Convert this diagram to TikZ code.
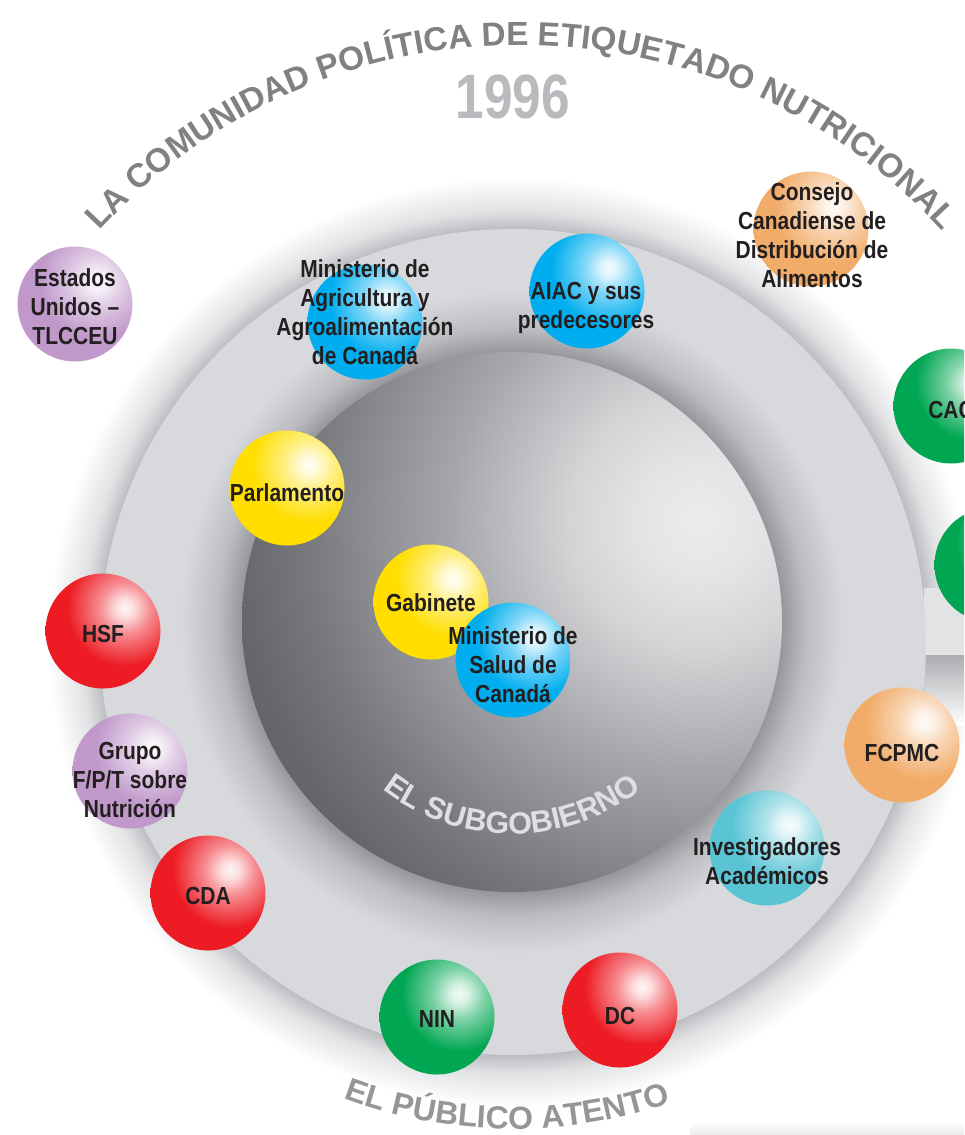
\documentclass[tikz,border=0pt]{standalone}
\usepackage{fontspec}
\setmainfont{Liberation Sans}
\newfontfamily\labfont[FakeStretch=0.85]{Liberation Sans}
\newfontfamily\yearfont[FakeStretch=0.82]{Liberation Sans}
\usetikzlibrary{decorations.text}

\definecolor{ballcol}{RGB}{237,28,36}
\definecolor{cRed}{RGB}{237,28,36}
\definecolor{cBlue}{RGB}{0,174,239}
\definecolor{cYellow}{RGB}{255,222,0}
\definecolor{cPurple}{RGB}{192,152,202}
\definecolor{cOrange}{RGB}{241,172,105}
\definecolor{cGreen}{RGB}{0,166,81}
\definecolor{cTeal}{RGB}{90,196,212}
\definecolor{labcol}{RGB}{35,31,32}
\definecolor{titlegray}{RGB}{128,129,132}
\definecolor{yeargray}{RGB}{185,186,189}
\definecolor{subgray}{RGB}{222,223,225}
\definecolor{pubgray}{RGB}{150,150,153}
\definecolor{diskgray}{RGB}{215,217,220}
\definecolor{haloin}{RGB}{188,189,192}
\definecolor{halomid}{RGB}{225,226,228}
\definecolor{ringdark}{RGB}{150,151,155}
\definecolor{ringmid}{RGB}{188,189,193}
\definecolor{bandgray}{RGB}{226,227,229}
\definecolor{bandshadow}{RGB}{172,173,177}
\definecolor{stripgray}{RGB}{232,233,235}
\definecolor{ig0}{RGB}{236,236,238}
\definecolor{ig1}{RGB}{228,228,230}
\definecolor{ig2}{RGB}{212,212,215}
\definecolor{ig3}{RGB}{165,166,169}
\definecolor{ig4}{RGB}{118,119,122}
\definecolor{ig5}{RGB}{101,102,105}
\definecolor{ig6}{RGB}{95,96,99}

% note: a path's bounding box corresponds to the inner 25bp radius of a shading
\pgfdeclareradialshading[ballcol]{myballshade}{\pgfpoint{0bp}{0bp}}{%
 color(0bp)=(ballcol!5!white); color(2.5bp)=(ballcol!15!white);
 color(7bp)=(ballcol!50!white); color(16bp)=(ballcol); color(50bp)=(ballcol)}
\pgfdeclareradialshading{innerglow}{\pgfpoint{0bp}{0bp}}{%
 color(0bp)=(ig0); color(2.7bp)=(ig1); color(5.8bp)=(ig2);
 color(11.2bp)=(ig3); color(17.9bp)=(ig4); color(21bp)=(ig5); color(25bp)=(ig6); color(50bp)=(ig6)}
\pgfdeclareradialshading{haloshade}{\pgfpoint{0bp}{0bp}}{%
 color(0bp)=(haloin); color(22.2bp)=(haloin); color(23.2bp)=(halomid); color(25bp)=(white); color(50bp)=(white)}
\pgfdeclareradialshading{ringshade}{\pgfpoint{0bp}{0bp}}{%
 color(0bp)=(ringdark); color(19.57bp)=(ringdark); color(21.3bp)=(ringmid); color(24bp)=(diskgray); color(50bp)=(diskgray)}

\newcommand\titlefmt{\fontsize{25pt}{30pt}\selectfont\bfseries\color{titlegray}}
\newcommand\subfmt{\fontsize{23pt}{27pt}\selectfont\bfseries\color{subgray}}
\newcommand\pubfmt{\fontsize{24pt}{28pt}\selectfont\bfseries\color{pubgray}}

\tikzset{
  ball/.style={circle, minimum size=86.25pt, inner sep=0pt, draw=none,
    /utils/exec={\colorlet{ballcol}{#1}},
    path picture={\shade[shading=myballshade]
      ([shift={(16.5pt,17.25pt)}]path picture bounding box.center) circle (67.5pt);}},
  lab/.style={font={\labfont\bfseries\fontsize{18.5pt}{21.75pt}\selectfont},
    text=labcol, align=center, inner sep=0pt}
}

\begin{document}
\begin{tikzpicture}[x=0.75pt,y=0.75pt]
\useasboundingbox (0,0) rectangle (964,-1135);
\clip (0,0) rectangle (964,-1135);
\fill[white] (0,0) rectangle (964,-1135);

% background discs
\shade[shading=haloshade] (513,-642) circle (465);
\fill[bandgray] (924,-588) rectangle (964,-655);
\shade[top color=bandshadow, bottom color=white] (924,-655) rectangle (964,-725);
\shade[top color=white, bottom color=stripgray] (690,-1122) rectangle (964,-1135);
\fill[diskgray] (513,-642) circle (413);
\shade[shading=ringshade] (512,-622) circle (345);
\begin{scope}
  \clip (512,-622) circle (270);
  \shade[shading=innerglow] (700,-520) circle (560);
\end{scope}

% titles
\path[shift={(521,-615)}, decorate, decoration={text along path, text align=center,
  text={|\titlefmt|LA COMUNIDAD POLÍTICA DE ETIQUETADO NUTRICIONAL}}]
  (140:570) arc[start angle=140, end angle=40, radius=570];
\node[font={\yearfont\bfseries\fontsize{47pt}{50pt}\selectfont}, text=yeargray, inner sep=0pt] (year) at (513,-97) {1996};
\path[shift={(512,-622)}, decorate, decoration={text along path, text align=center,
  text={|\subfmt|EL SUBGOBIERNO}}]
  (220:212) arc[start angle=220, end angle=320, radius=212];
\path[shift={(513,-642)}, decorate, decoration={text along path, text align=center,
  text={|\pubfmt|EL PÚBLICO ATENTO}}]
  (229:487) arc[start angle=229, end angle=309.5, radius=487];

% balls
\node[ball=cPurple] (eu) at (75,-304) {};
\node[ball=cBlue] (magri) at (365,-322) {};
\node[ball=cBlue] (aiac) at (587,-291) {};
\node[ball=cOrange] (ccda) at (811,-229) {};
\node[ball=cGreen] (cac) at (951,-406) {};
\node[ball=cGreen] (gtwo) at (992,-565) {};
\node[ball=cYellow] (parl) at (287,-488) {};
\node[ball=cYellow] (gab) at (431,-602) {};
\node[ball=cBlue] (msal) at (513,-660) {};
\node[ball=cRed] (hsf) at (103,-631) {};
\node[ball=cPurple] (fpt) at (130,-771) {};
\node[ball=cRed] (cda) at (208,-893) {};
\node[ball=cGreen] (nin) at (437,-1017) {};
\node[ball=cRed] (dc) at (620,-1010) {};
\node[ball=cOrange] (fcpmc) at (902,-745) {};
\node[ball=cTeal] (inv) at (767,-848) {};

% labels
\node[lab] (eu-t) at (75,-307) {Estados\\Unidos –\\TLCCEU};
\node[lab] (magri-t) at (365,-312) {Ministerio de\\Agricultura y\\Agroalimentación\\de Canadá};
\node[lab] (aiac-t) at (586,-308) {AIAC y sus\\predecesores};
\node[lab] (ccda-t) at (812,-235) {Consejo\\Canadiense de\\Distribución de\\Alimentos};
\node[lab] (cac-t) at (951,-410) {CAC};
\node[lab] (parl-t) at (287,-493) {Parlamento};
\node[lab] (gab-t) at (431,-603) {Gabinete};
\node[lab] (msal-t) at (513,-665) {Ministerio de\\Salud de\\Canadá};
\node[lab] (hsf-t) at (103,-634) {HSF};
\node[lab] (fpt-t) at (130,-780) {Grupo\\F/P/T sobre\\Nutrición};
\node[lab] (cda-t) at (208,-896) {CDA};
\node[lab] (nin-t) at (437,-1019) {NIN};
\node[lab] (dc-t) at (620,-1016) {DC};
\node[lab] (fcpmc-t) at (902,-753) {FCPMC};
\node[lab] (inv-t) at (767,-861) {Investigadores\\Académicos};
\end{tikzpicture}
\end{document}
